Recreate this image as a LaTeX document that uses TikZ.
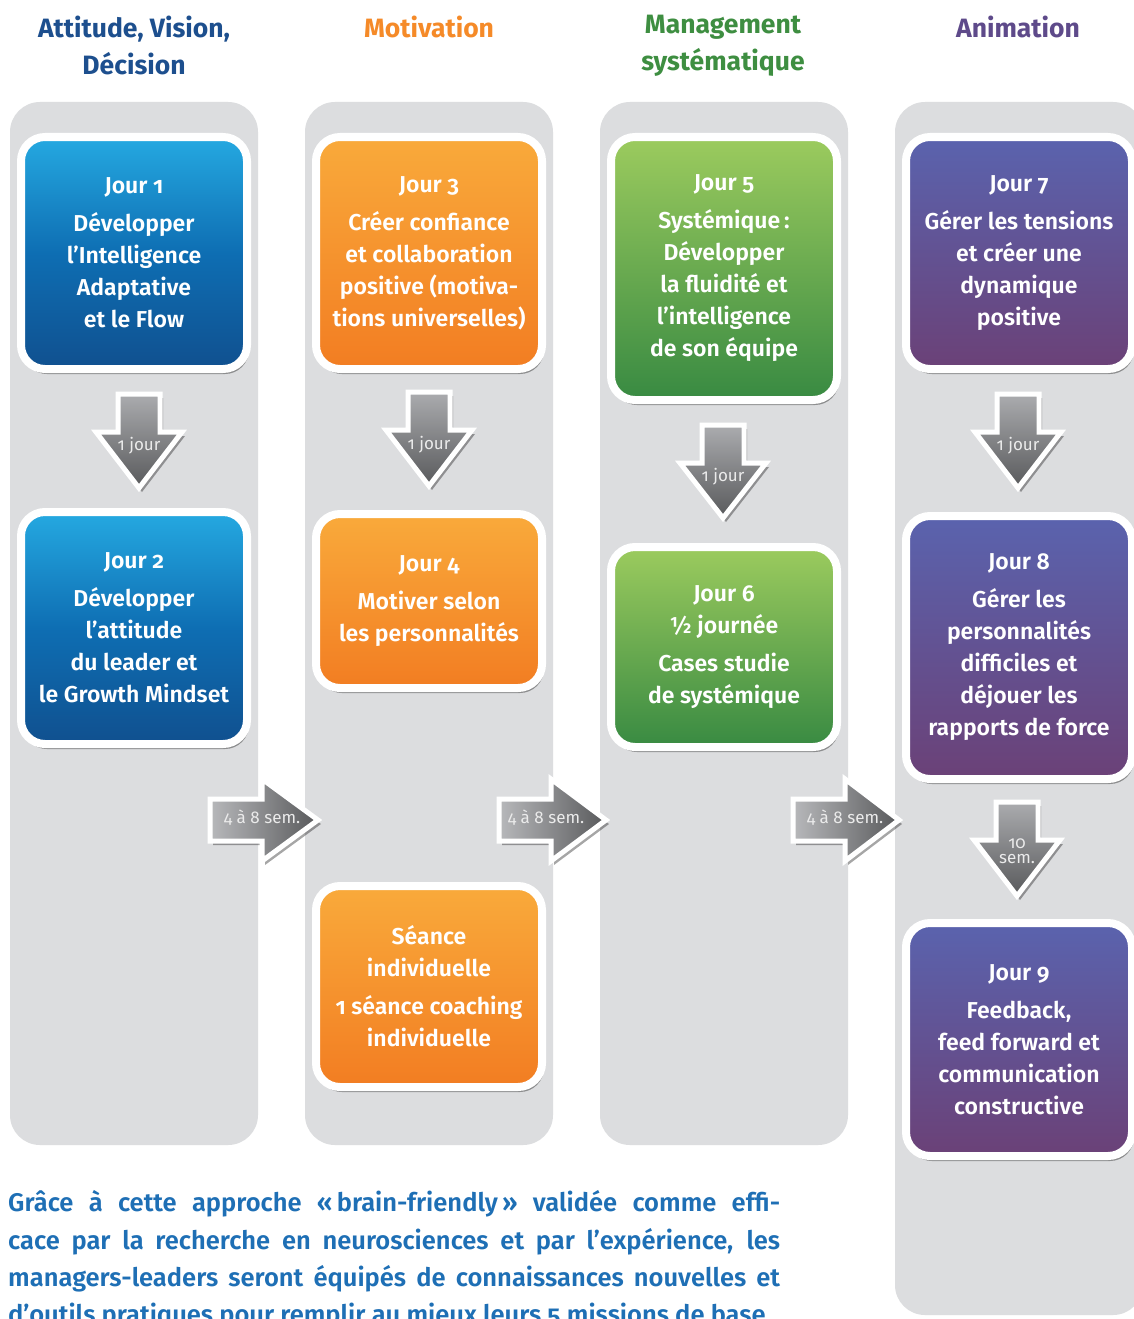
\documentclass[tikz,border=0pt]{standalone}
\usepackage{fontspec}
\setmainfont{Fira Sans}[Numbers=OldStyle, BoldFont={Fira Sans SemiBold}]
\newfontfamily\HeadFont{Fira Sans}[Numbers=OldStyle]
\usetikzlibrary{shadows}
\definecolor{panelgray}{HTML}{DCDDDF}
\definecolor{hblue}{HTML}{1D4F8E}
\definecolor{horange}{HTML}{F58A28}
\definecolor{hgreen}{HTML}{3E8E41}
\definecolor{hpurple}{HTML}{5E4A8A}
\definecolor{bodyblue}{HTML}{1E6FB5}
\definecolor{bluetop}{HTML}{25A9E1}
\definecolor{bluemid}{HTML}{0E6EB3}
\definecolor{bluebot}{HTML}{10508F}
\definecolor{orangetop}{HTML}{F9AA3B}
\definecolor{orangebot}{HTML}{F27D22}
\definecolor{greentop}{HTML}{9CCB5E}
\definecolor{greenbot}{HTML}{388A42}
\definecolor{purpletop}{HTML}{5A63AE}
\definecolor{purplebot}{HTML}{6B4177}
\definecolor{arrowlight}{HTML}{ABACAF}
\definecolor{arrowdark}{HTML}{58595B}
\newcommand\CardFont{\bfseries\fontsize{23}{32}\selectfont}
\tikzset{
  panel/.style={fill=panelgray, rounded corners=30pt, inner sep=0pt, draw=none},
  card/.style={draw=white, line width=8pt, rounded corners=24pt, inner sep=0pt,
    align=center, text=white, font=\CardFont, minimum width=226pt,
    drop shadow={shadow xshift=2pt, shadow yshift=-5pt, opacity=.5, fill=black!75}},
  bluecard/.style={card, top color=bluetop, bottom color=bluebot, middle color=bluemid},
  orangecard/.style={card, top color=orangetop, bottom color=orangebot},
  greencard/.style={card, top color=greentop, bottom color=greenbot},
  purplecard/.style={card, top color=purpletop, bottom color=purplebot},
  header/.style={align=center, font=\HeadFont\bfseries\fontsize{26.5}{37}\selectfont},
  blockdown/.style={draw=white, line width=5pt, line join=miter,
    top color=arrowlight, bottom color=arrowdark,
    drop shadow={shadow xshift=3pt, shadow yshift=-4pt, opacity=.35, fill=black}},
  blockright/.style={draw=white, line width=5pt, line join=miter,
    left color=arrowlight!85!white, right color=arrowdark,
    drop shadow={shadow xshift=3pt, shadow yshift=-4pt, opacity=.35, fill=black}},
  arrowlabel/.style={text=white!92!black, font=\fontsize{17}{15}\selectfont, align=center, inner sep=0pt},
  bodyline/.style={anchor=west, inner sep=0pt, text=bodyblue, font=\bfseries\fontsize{25.5}{37}\selectfont}
}
% #1 cx, #2 top, #3 head start, #4 tip
\newcommand\DownBlk[4]{%
  \path[blockdown] ({#1-21},#2) -- ({#1+21},#2) -- ({#1+21},#3) -- ({#1+43},#3)
    -- (#1,#4) -- ({#1-43},#3) -- ({#1-21},#3) -- cycle;}
% #1 left, #2 head start, #3 tip, #4 cy
\newcommand\RightBlk[4]{%
  \path[blockright] (#1,{#4-21}) -- (#2,{#4-21}) -- (#2,{#4-41}) -- (#3,#4)
    -- (#2,{#4+41}) -- (#2,{#4+21}) -- (#1,{#4+21}) -- cycle;}
\begin{document}
\begin{tikzpicture}[x=1pt,y=-1pt]
\useasboundingbox (0,0) rectangle (1134,1319);
\clip (0,0) rectangle (1134,1319);
\fill[white] (0,0) rectangle (1134,1319);

% headers
\node[header, text=hblue] (h1) at (134,45) {Attitude, Vision,\\Décision};
\node[header, text=horange] (h2) at (429,27) {Motivation};
\node[header, text=hgreen] (h3) at (723,46) {Management\\systématique};
\node[header, text=hpurple] (h4) at (1018,27) {Animation};

% panels
\node[panel, minimum width=248pt, minimum height=1043pt] (p1) at (134,623.5) {};
\node[panel, minimum width=248pt, minimum height=1043pt] (p2) at (429,623.5) {};
\node[panel, minimum width=248pt, minimum height=1043pt] (p3) at (724,623.5) {};
\node[panel, minimum width=248pt, minimum height=1213pt] (p4) at (1019,708.5) {};

% right arrows between columns
\RightBlk{210}{262}{318}{820}
\node[arrowlabel] (r1) at (262,818) {4 à 8 sem.};
\RightBlk{499}{551}{606}{820}
\node[arrowlabel] (r2) at (546,818) {4 à 8 sem.};
\RightBlk{793}{845}{899}{820}
\node[arrowlabel] (r3) at (845,818) {4 à 8 sem.};

% column 1
\node[bluecard, minimum height=232pt] (b1) at (134,253)
  {Jour 1\\[6pt]Développer\\l’Intelligence\\Adaptative\\et le Flow};
\node[bluecard, minimum height=232pt] (b2) at (134,628)
  {Jour 2\\[6pt]Développer\\l’attitude\\du leader et\\le Growth Mindset};
\DownBlk{139}{394}{432}{488}
\node[arrowlabel] (d1) at (139,446) {1 jour};

% column 2
\node[orangecard, minimum height=232pt] (b3) at (429,253)
  {Jour 3\\[6pt]Créer confiance\\et collaboration\\positive (motiva-\\tions universelles)};
\node[orangecard, minimum height=174pt] (b4) at (429,601)
  {Jour 4\\[6pt]Motiver selon\\les personnalités};
\node[orangecard, minimum height=201pt] (bs) at (429,986.5)
  {Séance\\individuelle\\[6pt]1 séance coaching\\individuelle};
\DownBlk{429}{392}{430}{486}
\node[arrowlabel] (d2) at (429,445) {1 jour};

% column 3
\node[greencard, minimum height=263pt] (b5) at (724,268.5)
  {Jour 5\\[6pt]Systémique\,:\\Développer\\la fluidité et\\l’intelligence\\de son équipe};
\node[greencard, minimum height=200pt] (b6) at (724,647)
  {Jour 6\\½ journée\\[6pt]Cases studie\\de systémique};
\DownBlk{723}{425}{463}{518}
\node[arrowlabel] (d3) at (723,477) {1 jour};

% column 4
\node[purplecard, minimum height=232pt] (b7) at (1019,253)
  {Jour 7\\[6pt]Gérer les tensions\\et créer une\\dynamique\\positive};
\node[purplecard, minimum height=263pt] (b8) at (1019,647.5)
  {Jour 8\\[6pt]Gérer les\\personnalités\\difficiles et\\déjouer les\\rapports de force};
\node[purplecard, minimum height=233pt] (b9) at (1019,1039.5)
  {Jour 9\\[6pt]Feedback,\\feed forward et\\communication\\constructive};
\DownBlk{1018}{394}{432}{488}
\node[arrowlabel] (d4) at (1018,446) {1 jour};
\DownBlk{1017}{802}{840}{896}
\node[arrowlabel] (d5) at (1017,851) {10\\sem.};

% body text
\node[bodyline] (t1) at (8,1204) {\hbox to 772pt{Grâce à cette approche «\,brain-friendly\,» validée comme effi-}};
\node[bodyline] (t2) at (8,1242) {\hbox to 772pt{cace par la recherche en neurosciences et par l’expérience, les}};
\node[bodyline] (t3) at (8,1279) {\hbox to 772pt{managers-leaders seront équipés de connaissances nouvelles et}};
\node[bodyline] (t4) at (8,1316) {d’outils pratiques pour remplir au mieux leurs 5 missions de base.};
\end{tikzpicture}
\end{document}
